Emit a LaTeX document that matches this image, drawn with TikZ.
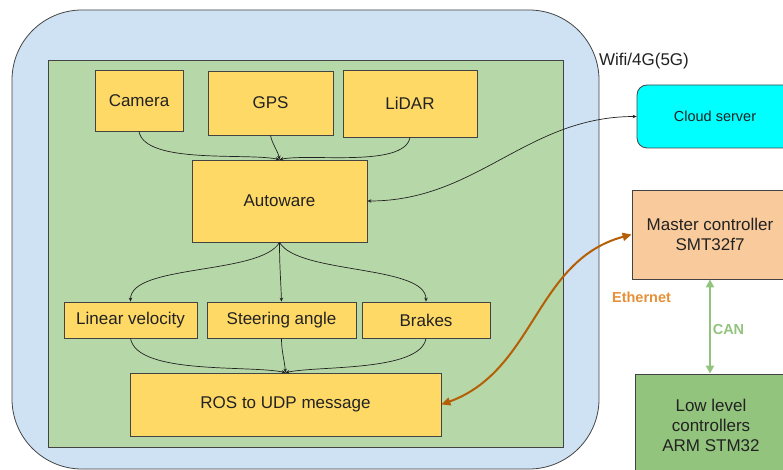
\documentclass[tikz,border=0pt]{standalone}
\usepackage{fontspec}
\setmainfont{Liberation Sans}
\usetikzlibrary{arrows.meta}
\definecolor{outerblue}{HTML}{CFE2F3}
\definecolor{innergreen}{HTML}{B6D7A8}
\definecolor{boxyellow}{HTML}{FFD966}
\definecolor{cloudcyan}{HTML}{00FFFF}
\definecolor{peach}{HTML}{F9CB9C}
\definecolor{lowgreen}{HTML}{93C47D}
\definecolor{ethcol}{HTML}{B45F06}
\definecolor{ethtext}{HTML}{E69138}
\definecolor{edgegray}{HTML}{434343}
\definecolor{txt}{HTML}{222222}
\begin{document}
\begin{tikzpicture}[x=1pt,y=-1pt,
  every node/.style={font=\fontsize{17}{20}\selectfont, text=txt},
  frame/.style={draw=edgegray, line width=0.8pt, inner sep=0pt},
  ybox/.style={frame, fill=boxyellow},
  flow/.style={-{Stealth[length=4pt,width=3.5pt]}, line width=0.7pt, draw=txt},
  ethline/.style={{Triangle[length=9pt,width=8pt]}-{Triangle[length=9pt,width=8pt]}, line width=2pt, draw=ethcol},
  canline/.style={{Triangle[length=8pt,width=8pt]}-{Triangle[length=8pt,width=8pt]}, line width=2pt, draw=lowgreen},
  smalllabel/.style={font=\fontsize{14.5}{17}\selectfont\bfseries},
]
\clip (0,0) rectangle (783,470);
\fill[white] (0,0) rectangle (783,470);

% containers
\node[frame, fill=outerblue, rounded corners=70pt, minimum width=587, minimum height=459] (vehicle) at (305.5,239.5) {};
\node[frame, fill=innergreen, minimum width=515, minimum height=387] (pc) at (305.5,253.5) {};

% sensors
\node[ybox, minimum width=88, minimum height=61] (cam) at (139,100.5) {Camera};
\node[ybox, minimum width=125, minimum height=64] (gps) at (270.5,103) {GPS};
\node[ybox, minimum width=134, minimum height=67] (lidar) at (410,103.5) {LiDAR};

\node[ybox, minimum width=175, minimum height=82] (auto) at (279.5,201) {Autoware};

\node[ybox, minimum width=133, minimum height=36] (lin) at (130.5,320) {Linear velocity};
\node[ybox, minimum width=149, minimum height=36] (steer) at (281.5,320) {Steering angle};
\node[ybox, minimum width=128, minimum height=36] (brake) at (426,320) {Brakes};

\node[ybox, minimum width=311, minimum height=63] (ros) at (285.5,404.5) {ROS to UDP message};

% external
\node[frame, fill=cloudcyan, rounded corners=10pt, minimum width=156, minimum height=63,
      font=\fontsize{14.5}{17}\selectfont] (cloud) at (715,116.5) {Cloud server};
\node[frame, fill=peach, minimum width=156, minimum height=89, align=center] (master) at (710,234.5) {Master controller\\SMT32f7};
\node[frame, fill=lowgreen, minimum width=152, minimum height=102, align=center] (low) at (711,425) {Low level\\controllers\\ARM STM32};

% labels
\node (wifi) at (644,61) {Wifi/4G(5G)};
\node[smalllabel, text=ethtext] (eth) at (641.5,297) {Ethernet};
\node[smalllabel, text=lowgreen] (can) at (728.5,330) {CAN};

% sensor flows
\draw[flow] (cam.south) to[out=-80,in=168,looseness=0.6] (auto.north);
\draw[flow] (gps.south) to[out=-80,in=100,looseness=0.8] (auto.north);
\draw[flow] (lidar.south) to[out=-100,in=12,looseness=0.6] (auto.north);

\draw[flow] (auto.south) to[out=-120,in=90,looseness=0.6] (lin.north);
\draw[flow] (auto.south) to[out=-90,in=92] (steer.north);
\draw[flow] (auto.south) to[out=-60,in=90,looseness=0.6] (brake.north);

\draw[flow] (lin.south) to[out=-80,in=168,looseness=0.6] (ros.north);
\draw[flow] (steer.south) to[out=-90,in=95] (ros.north);
\draw[flow] (brake.south) to[out=-100,in=12,looseness=0.6] (ros.north);

% network links
\draw[flow, <->, >={Stealth[length=4pt,width=3.5pt]}] (auto.east) to[out=0,in=180] (cloud.west);
\draw[ethline] (ros.east) to[out=20,in=195] (master.west);
\draw[canline] (master.south) -- (master.south |- low.north);
\end{tikzpicture}
\end{document}
